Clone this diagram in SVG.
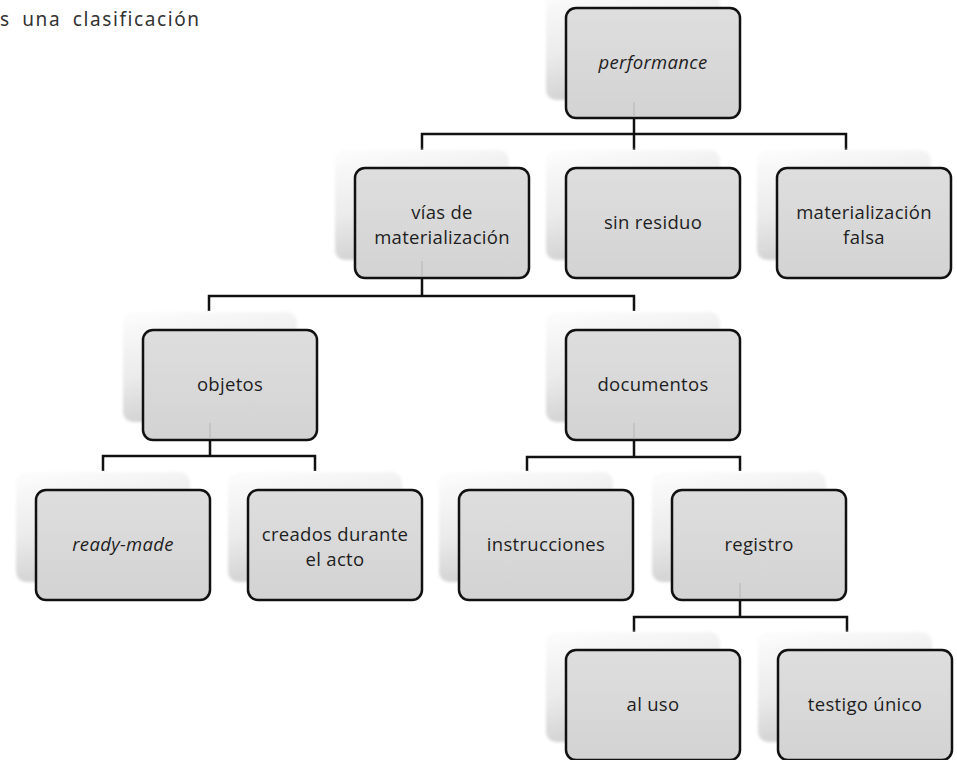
<svg xmlns="http://www.w3.org/2000/svg" width="957" height="760" viewBox="0 0 957 760">
<defs>
  <linearGradient id="shd" x1="0" y1="0" x2="0.3" y2="1">
    <stop offset="0" stop-color="#fdfdfd"/>
    <stop offset="0.55" stop-color="#ebebeb"/>
    <stop offset="1" stop-color="#d0d0d0"/>
  </linearGradient>
  <linearGradient id="box" x1="0" y1="0" x2="0" y2="1">
    <stop offset="0" stop-color="#dedede"/>
    <stop offset="1" stop-color="#d3d3d3"/>
  </linearGradient>
  <filter id="blur" x="-10%" y="-10%" width="120%" height="120%">
    <feGaussianBlur stdDeviation="1.5"/>
  </filter>
  <g id="node">
    <rect x="-20" y="-18" width="174" height="110" rx="10" fill="url(#shd)" filter="url(#blur)"/>
    <rect x="0" y="0" width="174" height="110" rx="10" fill="url(#box)" stroke="#111" stroke-width="2.5"/>
  </g>
</defs>
<style>
  .t { font-family: "Open Sans", "Noto Sans", sans-serif; font-size: 18.5px; fill: #1e1e1e; text-anchor: middle; letter-spacing: 0.3px; }
  .i { font-style: italic; }
  .hair { stroke: #b4b4b4; stroke-width: 1; }
  .c { fill: none; stroke: #111; stroke-width: 2.5; }
  .top { font-family: "Noto Sans", "Open Sans", sans-serif; font-size: 19px; fill: #333; letter-spacing: 1.6px; word-spacing: 5px; }
</style>
<text class="top" x="0" y="26">s una clasificación</text>
<g id="connectors">
  <path class="c" d="M634,118 V150 M422,150 V134 H846 V150"/>
  <path class="c" d="M422,277 V296 M209,311 V296 H634 V311"/>
  <path class="c" d="M210,440 V456 M103,471 V456 H315 V471"/>
  <path class="c" d="M634,441 V457 M527,471 V457 H740 V471"/>
  <path class="c" d="M740,600 V617 M634,632 V617 H847 V632"/>
</g>
<g id="n-performance">
  <use href="#node" x="566" y="8"/>
  <line class="hair" x1="634" y1="102" x2="634" y2="117"/>
  <text class="t i" x="653" y="69">performance</text>
</g>
<g id="n-vias">
  <use href="#node" x="355" y="168"/>
  <line class="hair" x1="422" y1="261" x2="422" y2="276"/>
  <text class="t" x="442" y="219">vías de</text>
  <text class="t" x="442" y="244">materialización</text>
</g>
<g id="n-sinresiduo">
  <use href="#node" x="566" y="168"/>
  <text class="t" x="653" y="229">sin residuo</text>
</g>
<g id="n-falsa">
  <use href="#node" x="777" y="168"/>
  <text class="t" x="864" y="219">materialización</text>
  <text class="t" x="864" y="244">falsa</text>
</g>
<g id="n-objetos">
  <use href="#node" x="143" y="330"/>
  <line class="hair" x1="210" y1="423" x2="210" y2="439"/>
  <text class="t" x="230" y="391">objetos</text>
</g>
<g id="n-documentos">
  <use href="#node" x="566" y="330"/>
  <line class="hair" x1="634" y1="423" x2="634" y2="439"/>
  <text class="t" x="653" y="391">documentos</text>
</g>
<g id="n-readymade">
  <use href="#node" x="36" y="490"/>
  <text class="t i" x="123" y="551">ready-made</text>
</g>
<g id="n-creados">
  <use href="#node" x="248" y="490"/>
  <text class="t" x="335" y="541">creados durante</text>
  <text class="t" x="335" y="566">el acto</text>
</g>
<g id="n-instrucciones">
  <use href="#node" x="459" y="490"/>
  <text class="t" x="546" y="551">instrucciones</text>
</g>
<g id="n-registro">
  <use href="#node" x="672" y="490"/>
  <line class="hair" x1="740" y1="583" x2="740" y2="599"/>
  <text class="t" x="759" y="551">registro</text>
</g>
<g id="n-aluso">
  <use href="#node" x="566" y="650"/>
  <text class="t" x="653" y="711">al uso</text>
</g>
<g id="n-testigo">
  <use href="#node" x="778" y="650"/>
  <text class="t" x="865" y="711">testigo único</text>
</g>
</svg>
